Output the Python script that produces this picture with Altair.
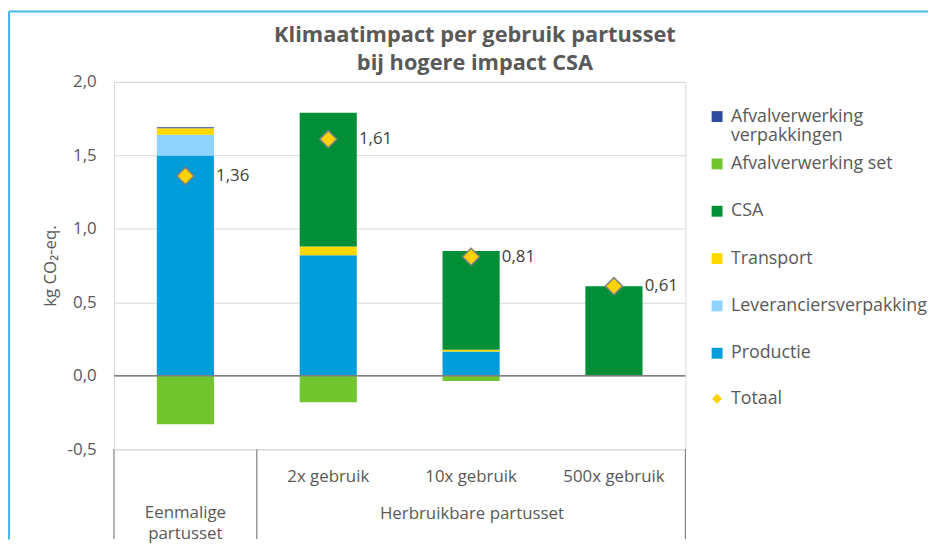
import altair as alt
import pandas as pd

# ---------------- data ----------------
categories = ["Eenmalige partusset", "2x gebruik", "10x gebruik", "500x gebruik"]
components = ["Productie", "Leveranciersverpakking", "Transport", "CSA",
              "Afvalverwerking set", "Afvalverwerking verpakkingen"]
legend_order = ["Afvalverwerking verpakkingen", "Afvalverwerking set", "CSA",
                "Transport", "Leveranciersverpakking", "Productie"]
legend_colors = ["#2E4A9B", "#72C52F", "#008F36", "#FFD800", "#8FD3FE", "#009DDA"]

productie = [1.50, 0.82, 0.165, 0.0]
leveranciersverpakking = [0.14, 0.0, 0.0, 0.0]
transport = [0.045, 0.06, 0.012, 0.0]
csa = [0.0, 0.91, 0.672, 0.61]
afvalverwerking_set = [-0.33, -0.18, -0.035, 0.0]
afvalverwerking_verpakkingen = [0.006, 0.0, 0.0, 0.0]
totaal = [1.36, 1.61, 0.81, 0.61]

y_ticks = [-0.5, 0.0, 0.5, 1.0, 1.5, 2.0]

series = [productie, leveranciersverpakking, transport, csa,
          afvalverwerking_set, afvalverwerking_verpakkingen]

rows = []
for idx, (comp, vals) in enumerate(zip(components, series)):
    for cat, v in zip(categories, vals):
        if v != 0:
            rows.append({"cat": cat, "comp": comp, "value": v, "idx": idx})
bars_df = pd.DataFrame(rows)

tot_df = pd.DataFrame({"cat": categories, "totaal": totaal, "series": ["Totaal"] * 4})

sep_start_df = pd.DataFrame({"cat": [categories[0], categories[1]]})
sep_end_df = pd.DataFrame({"cat": [categories[-1]]})
zero_df = pd.DataFrame({"v": [0.0]})

FONT = "Open Sans"
GREY = "#595959"

x_scale = alt.Scale(domain=categories, paddingInner=0, paddingOuter=0)
y_scale = alt.Scale(domain=[-0.5, 2.0], nice=False, zero=False)

x_axis = alt.Axis(
    title="Herbruikbare partusset", titleX=361, titleY=65, titleBaseline="middle",
    titleFontSize=17, titleFontWeight="normal", titleColor=GREY,
    labelAngle=0, labelFontSize=17, labelColor=GREY, labelLineHeight=21,
    labelBaseline="top",
    labelExpr="datum.value == 'Eenmalige partusset' ? ['Eenmalige', 'partusset'] : datum.value",
    labelPadding={"condition": {"test": "datum.value == 'Eenmalige partusset'", "value": 56},
                  "value": 20},
    ticks=False, domain=False, grid=False, labelOverlap=False, labelLimit=300,
)

y_axis = alt.Axis(
    values=y_ticks,
    labelExpr="replace(replace(format(datum.value, '.1f'), '.', ','), '\u2212', '-')",
    grid=True, gridColor="#D9D9D9", gridWidth=1, ticks=False, domain=False,
    labelFontSize=17, labelColor=GREY, labelPadding=18,
    title="kg CO₂-eq.", titleFontSize=17, titleFontWeight="normal",
    titleColor=GREY, titlePadding=8,
)

x_enc = alt.X("cat:N", sort=categories, scale=x_scale, axis=x_axis)

bars = alt.Chart(bars_df).mark_bar(width=alt.RelativeBandSize(0.4)).encode(
    x=x_enc,
    y=alt.Y("value:Q", stack="zero", scale=y_scale, axis=y_axis),
    color=alt.Color(
        "comp:N",
        scale=alt.Scale(domain=legend_order, range=legend_colors),
        legend=alt.Legend(
            orient="none", legendX=600, legendY=26, title=None,
            symbolType="square", symbolSize=121, symbolStrokeWidth=0,
            labelFontSize=18, labelColor=GREY, labelOffset=5, labelLimit=400,
            labelExpr="datum.label == 'Afvalverwerking verpakkingen' ? ['Afvalverwerking', 'verpakkingen'] : [datum.label, ' ']",
            rowPadding=9.8, padding=0,
        ),
    ),
    order=alt.Order("idx:Q", sort="ascending"),
)

zero_line = alt.Chart(zero_df).mark_rule(color="#808080", strokeWidth=1.5).encode(
    y=alt.Y("v:Q", scale=y_scale)
)

sep_start = alt.Chart(sep_start_df).mark_rule(color="#808080", strokeWidth=1.2).encode(
    x=alt.X("cat:N", bandPosition=0),
    y=alt.datum(-0.5), y2=alt.datum(-1.11),
)
sep_end = alt.Chart(sep_end_df).mark_rule(color="#808080", strokeWidth=1.2).encode(
    x=alt.X("cat:N", bandPosition=1),
    y=alt.datum(-0.5), y2=alt.datum(-1.11),
)

points = alt.Chart(tot_df).mark_point(
    filled=True, size=300, fill="#FFD200", stroke="#7F7F7F", strokeWidth=1.5, opacity=1
).encode(
    x="cat:N",
    y=alt.Y("totaal:Q"),
    shape=alt.Shape(
        "series:N",
        scale=alt.Scale(domain=["Totaal"], range=["diamond"]),
        legend=alt.Legend(
            orient="none", legendX=600, legendY=311, title=None,
            symbolSize=100, symbolFillColor="#FFD200", symbolStrokeColor="#7F7F7F",
            symbolStrokeWidth=1.2, labelFontSize=18, labelColor=GREY, labelOffset=5,
            padding=0,
        ),
    ),
)

labels = alt.Chart(tot_df).transform_calculate(
    lbl="replace(format(datum.totaal, '.2f'), '.', ',')"
).mark_text(align="left", baseline="middle", dx=31, fontSize=17, color="#404040").encode(
    x="cat:N", y="totaal:Q", text="lbl:N"
)

frame_data = alt.Data(values=[{}])
frame_top = alt.Chart(frame_data).mark_rule(color="#45B8EA", strokeWidth=2).encode(
    x=alt.value(-106), x2=alt.value(822), y=alt.value(-71)
)
frame_left = alt.Chart(frame_data).mark_rule(color="#45B8EA", strokeWidth=2).encode(
    x=alt.value(-106), y=alt.value(-71), y2=alt.value(462)
)

chart = alt.layer(
    bars, zero_line, sep_start, sep_end, points, labels, frame_top, frame_left
).resolve_legend(color="independent", shape="independent").properties(
    width=577, height=371, padding=0,
    title=alt.TitleParams(
        text=["Klimaatimpact per gebruik partusset", "bij hogere impact CSA"],
        fontSize=22, fontWeight="bold", color=GREY, anchor="middle", frame="group",
        dx=76, lineHeight=28, offset=-65,
    ),
).configure(font=FONT).configure_view(stroke="#D9D9D9", strokeWidth=1)

chart.save("out.html", embed_options={"renderer": "svg", "actions": False})
